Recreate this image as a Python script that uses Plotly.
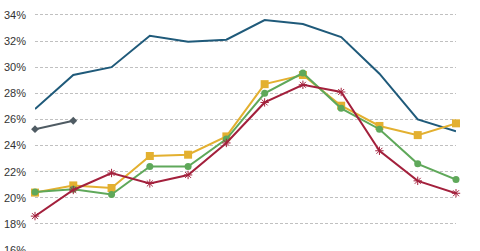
import plotly.graph_objects as go

periods = ["P1", "P2", "P3", "P4", "P5", "P6", "P7", "P8", "P9", "P10", "P11", "P12"]
blue_vals = [26.8, 29.4, 30.0, 32.4, 31.95, 32.1, 33.6, 33.3, 32.3, 29.5, 26.0, 25.1]
gray_vals = [25.25, 25.9]
red_vals = [18.6, 20.6, 21.9, 21.1, 21.75, 24.2, 27.3, 28.65, 28.1, 23.6, 21.3, 20.35]
green_vals = [20.45, 20.65, 20.25, 22.4, 22.4, 24.5, 28.0, 29.55, 26.85, 25.25, 22.6, 21.4]
yellow_vals = [20.4, 20.95, 20.75, 23.2, 23.3, 24.7, 28.7, 29.4, 27.05, 25.5, 24.8, 25.7]
y_ticks = [16, 18, 20, 22, 24, 26, 28, 30, 32, 34]
y_tick_text = [f"{v}%" for v in y_ticks]

fig = go.Figure()
fig.add_trace(go.Scatter(x=periods, y=blue_vals, mode="lines",
                         line=dict(color="#1f5a7a", width=2), cliponaxis=False))
fig.add_trace(go.Scatter(x=periods[:len(gray_vals)], y=gray_vals, mode="lines+markers",
                         line=dict(color="#4f5b63", width=2),
                         marker=dict(symbol="diamond", size=6, color="#4f5b63"), cliponaxis=False))
fig.add_trace(go.Scatter(x=periods, y=yellow_vals, mode="lines+markers",
                         line=dict(color="#e3b030", width=2),
                         marker=dict(symbol="square", size=8, color="#e3b030"), cliponaxis=False))
fig.add_trace(go.Scatter(x=periods, y=green_vals, mode="lines+markers",
                         line=dict(color="#5fa85a", width=2),
                         marker=dict(symbol="circle", size=7, color="#5fa85a"), cliponaxis=False))
fig.add_trace(go.Scatter(x=periods, y=red_vals, mode="lines+markers",
                         line=dict(color="#a3203c", width=2),
                         marker=dict(symbol="asterisk-open", size=7,
                                     line=dict(color="#d29ccc", width=1)), cliponaxis=False))

fig.update_layout(
    width=480, height=251,
    margin=dict(l=35, r=24, t=0, b=0, autoexpand=False),
    paper_bgcolor="white", plot_bgcolor="white",
    showlegend=False,
    font=dict(family="Liberation Sans, Arial, sans-serif", size=11, color="#333333"),
    xaxis=dict(showticklabels=False, showgrid=False, zeroline=False, showline=False,
               range=[0, 11], automargin=False),
    yaxis=dict(range=[15.93, 35.14], tickvals=y_ticks, ticktext=y_tick_text,
               showgrid=True, gridcolor="#c0c0c0", griddash="3px,2px", gridwidth=1,
               zeroline=False, showline=False, ticklabelstandoff=8,
               ticklabeloverflow="allow", automargin=False),
)

fig.write_html("out.html")
